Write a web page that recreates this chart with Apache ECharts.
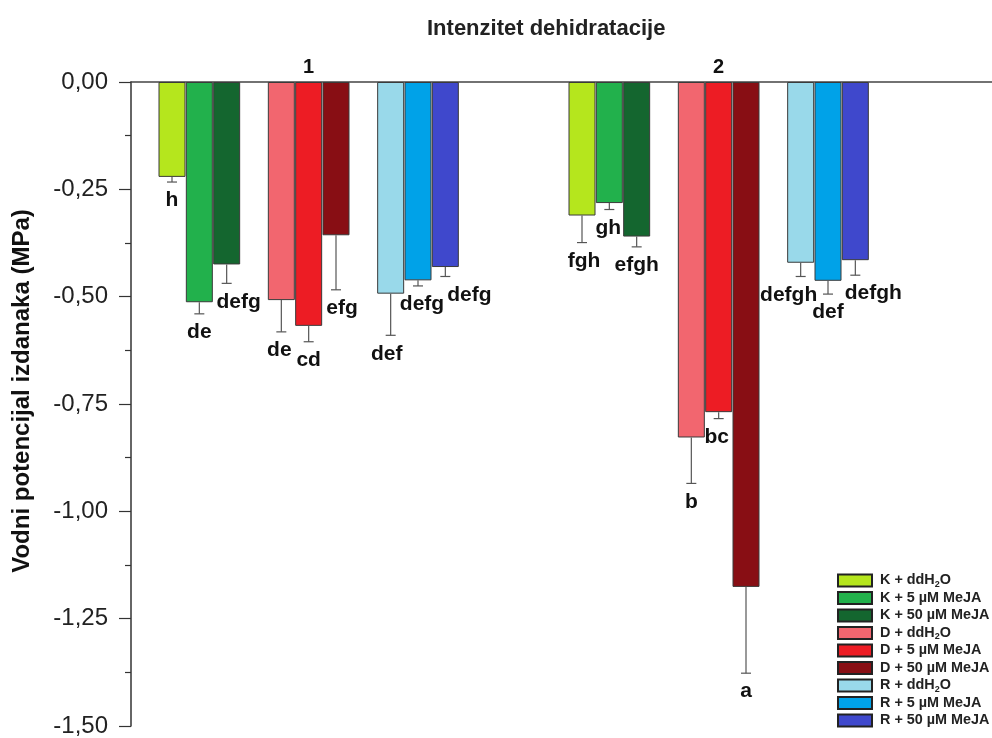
<!DOCTYPE html>
<html>
<head>
<meta charset="utf-8">
<script src="https://cdn.jsdelivr.net/npm/echarts@6/dist/echarts.min.js"></script>
<style>
html,body{margin:0;padding:0;background:#fff;}
#chart{width:992px;height:738px;}
</style>
</head>
<body>
<div id="chart"></div>
<script>
// ---- data ----
const groups = ['1', '2'];
const seriesNames = [
  'K + ddH2O', 'K + 5 µM MeJA', 'K + 50 µM MeJA',
  'D + ddH2O', 'D + 5 µM MeJA', 'D + 50 µM MeJA',
  'R + ddH2O', 'R + 5 µM MeJA', 'R + 50 µM MeJA'
];
const valuesG1 = [-0.221, -0.513, -0.425, -0.508, -0.568, -0.357, -0.493, -0.462, -0.431];
const errorsG1 = [0.012, 0.027, 0.044, 0.074, 0.037, 0.127, 0.097, 0.013, 0.022];
const lettersG1 = ['h', 'de', 'defg', 'de', 'cd', 'efg', 'def', 'defg', 'defg'];
const valuesG2 = [-0.311, -0.282, -0.360, -0.828, -0.769, -1.176, -0.421, -0.463, -0.415];
const errorsG2 = [0.063, 0.015, 0.024, 0.107, 0.015, 0.201, 0.032, 0.031, 0.035];
const lettersG2 = ['fgh', 'gh', 'efgh', 'b', 'bc', 'a', 'defgh', 'def', 'defgh'];
const yTicks = [0, -0.25, -0.5, -0.75, -1.0, -1.25, -1.5];

// ---- styles / layout ----
const colors = ['#b5e61d', '#22b14c', '#14662f', '#f2666f', '#ed1c24', '#880e14', '#99d9ea', '#00a2e8', '#3f48cc'];
const letterShiftG1 = [0, 0, 12, -2, 0, 6, -4, 4, 24];
const letterShiftG2 = [2, -1, 0, 0, -2, 0, -12, 0, 18];
const FONT = 'Arial, "Liberation Sans", Helvetica, sans-serif';

const groupVals = [valuesG1, valuesG2];
const groupErrs = [errorsG1, errorsG2];
const groupLetters = [lettersG1, lettersG2];
const groupShift = [letterShiftG1, letterShiftG2];

// slot position of a bar: 3 treatment clusters of 3 bars, one empty slot between clusters
function slot(g, i) {
  return 1.5 + g * 15 + Math.floor(i / 3) * 4 + (i % 3);
}

const barSeries = seriesNames.map((name, i) => ({
  name: name,
  type: 'bar',
  barWidth: 27,
  barGap: '-100%',
  itemStyle: { color: colors[i], borderColor: '#3a3a3a', borderWidth: 1 },
  data: groups.map((gName, g) => [slot(g, i), groupVals[g][i]]),
  z: 2
}));

const errData = [];
const errMeta = [];
groups.forEach((gName, g) => {
  seriesNames.forEach((n, i) => {
    errData.push([slot(g, i), groupVals[g][i], groupErrs[g][i]]);
    errMeta.push({ letter: groupLetters[g][i], dx: groupShift[g][i] });
  });
});

const errSeries = {
  type: 'custom',
  name: 'err',
  z: 5,
  silent: true,
  renderItem: function (params, api) {
    const x = api.value(0), v = api.value(1), e = api.value(2);
    const p0 = api.coord([x, v]);
    const p1 = api.coord([x, v - e]);
    const meta = errMeta[params.dataIndex];
    const cap = 5;
    return {
      type: 'group',
      children: [
        { type: 'line', shape: { x1: p0[0], y1: p0[1], x2: p1[0], y2: p1[1] }, style: { stroke: '#555', lineWidth: 1.2 } },
        { type: 'line', shape: { x1: p1[0] - cap, y1: p1[1], x2: p1[0] + cap, y2: p1[1] }, style: { stroke: '#555', lineWidth: 1.2 } },
        { type: 'text', style: { text: meta.letter, x: p1[0] + meta.dx, y: p1[1] + 8, align: 'center', verticalAlign: 'top', font: 'bold 21px ' + FONT, fill: '#111' } }
      ]
    };
  },
  data: errData
};

const groupSeries = {
  type: 'custom',
  name: 'groups',
  z: 5,
  silent: true,
  renderItem: function (params, api) {
    const p = api.coord([api.value(0), api.value(1)]);
    return { type: 'text', style: { text: groups[params.dataIndex], x: p[0], y: p[1] - 5, align: 'center', verticalAlign: 'bottom', font: 'bold 20px ' + FONT, fill: '#111' } };
  },
  data: groups.map((gName, g) => [slot(g, 4), 0])
};

const chart = echarts.init(document.getElementById('chart'), null, { renderer: 'canvas' });
chart.setOption({
  animation: false,
  backgroundColor: '#fff',
  title: {
    text: 'Intenzitet dehidratacije',
    left: 427, top: 18,
    padding: 0,
    textStyle: { fontFamily: FONT, fontWeight: 'bold', fontSize: 22, color: '#222' }
  },
  legend: {
    data: seriesNames,
    orient: 'vertical',
    left: 837, top: 572,
    padding: 0,
    itemWidth: 34, itemHeight: 12,
    itemGap: 0.5,
    icon: 'rect',
    itemStyle: { borderColor: '#222', borderWidth: 2 },
    formatter: function (name) { return name.replace('H2O', 'H{sub|2}O'); },
    textStyle: {
      fontFamily: FONT, fontWeight: 'bold', fontSize: 14.4, color: '#222', lineHeight: 17,
      padding: [0, 0, 0, 3],
      rich: { sub: { fontFamily: FONT, fontWeight: 'bold', fontSize: 9, color: '#222', verticalAlign: 'bottom', lineHeight: 17, padding: [7, 0, 0, 0] } }
    }
  },
  grid: { left: 131, right: 0, top: 82, bottom: 10, containLabel: false },
  xAxis: {
    type: 'value', position: 'top', min: 0, max: 31.5,
    axisLine: { show: true, onZero: false, lineStyle: { color: '#444', width: 1.5 } },
    axisTick: { show: false }, axisLabel: { show: false }, splitLine: { show: false }
  },
  yAxis: {
    type: 'value', min: yTicks[yTicks.length - 1], max: yTicks[0], interval: 0.25,
    name: 'Vodni potencijal izdanaka (MPa)',
    nameLocation: 'middle', nameGap: 97, nameRotate: 90,
    nameTextStyle: { fontFamily: FONT, fontWeight: 'bold', fontSize: 24, color: '#111', padding: [0, 0, 0, 26] },
    axisLine: { show: true, lineStyle: { color: '#333', width: 1.5 } },
    axisTick: { show: true, length: 12, lineStyle: { color: '#333', width: 1.2 } },
    minorTick: { show: true, splitNumber: 2, length: 6, lineStyle: { color: '#333', width: 1.2 } },
    splitLine: { show: false },
    axisLabel: {
      margin: 23, fontFamily: FONT, fontSize: 24, color: '#222',
      formatter: function (v) { return v.toFixed(2).replace('.', ','); }
    }
  },
  series: barSeries.concat([errSeries, groupSeries])
});
</script>
</body>
</html>
